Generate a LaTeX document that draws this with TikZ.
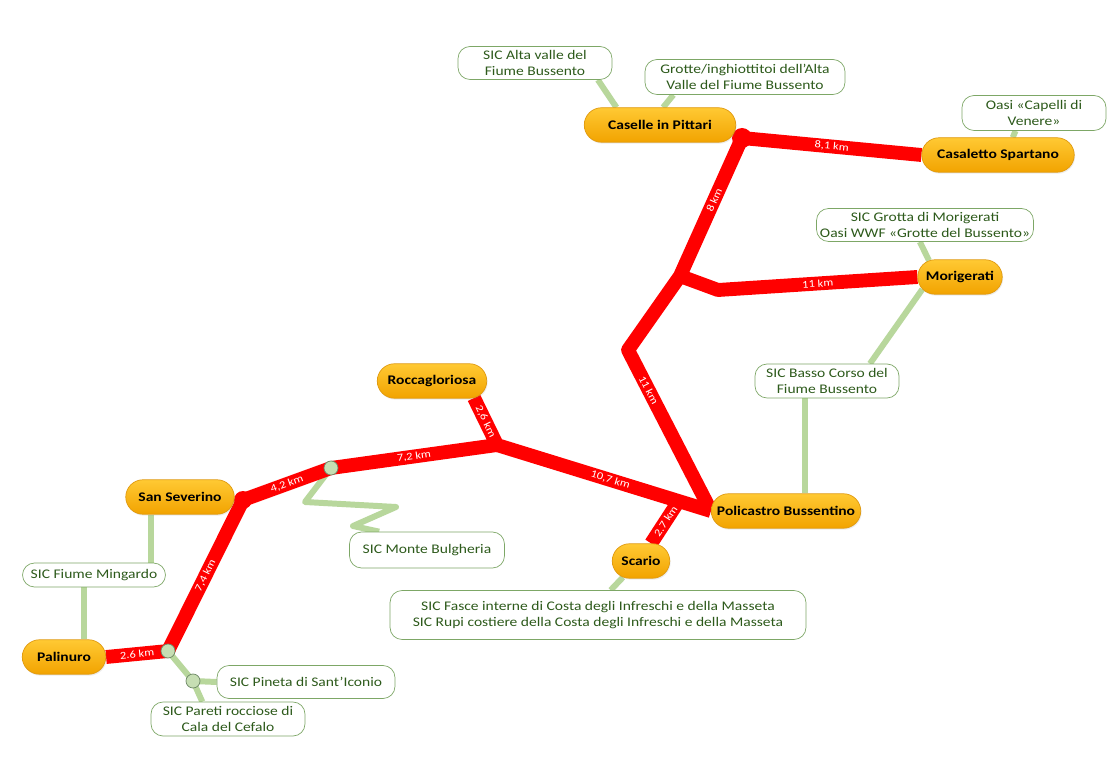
\documentclass[tikz,border=0pt]{standalone}
\usepackage{fontspec}
\setmainfont{Carlito}[FakeStretch=1.18]
\usetikzlibrary{shapes.misc,backgrounds,shadows}
\definecolor{townhi}{HTML}{FFC933}
\definecolor{townlo}{HTML}{F2A300}
\definecolor{townedge}{HTML}{E09A10}
\definecolor{sicedge}{HTML}{7DA766}
\definecolor{sictext}{HTML}{2D5A1B}
\definecolor{linkgreen}{HTML}{B8D79C}
\definecolor{roadred}{HTML}{FF0000}
\definecolor{dotfill}{HTML}{C6DEB3}
\definecolor{dotedge}{HTML}{6F8A68}

\begin{document}
\begin{tikzpicture}[x=0.02cm,y=-0.02cm,
  town/.style={rounded rectangle,draw=townedge,top color=townhi,bottom color=townlo,
    font=\fontsize{7.5}{9}\selectfont\bfseries,minimum height=0.69cm,inner sep=1pt,
    drop shadow={opacity=0.15,shadow xshift=0.5pt,shadow yshift=-0.8pt}},
  sic/.style={draw=sicedge,fill=white,rounded corners=0.24cm,align=center,text=sictext,
    font=\fontsize{7.5}{9}\selectfont,minimum height=0.66cm,inner sep=1pt},
  sicdot/.style={circle,draw=dotedge,fill=dotfill,minimum size=0.28cm,inner sep=0pt},
  road/.style={draw=roadred,line width=7.9pt,line join=round},
  link/.style={draw=linkgreen,line width=3.4pt,line join=round},
  dist/.style={midway,sloped,text=white,font=\fontsize{6}{7}\selectfont,inner sep=0pt}]
\useasboundingbox (0,0) rectangle (1116,763);

\node[town,minimum width=3.1cm] (cap) at (660,125) {Caselle in Pittari};
\node[town,minimum width=3.12cm] (cas) at (998,155) {Casaletto Spartano};
\node[town,minimum width=1.76cm] (mor) at (960,277) {Morigerati};
\node[town,minimum width=3.06cm] (pol) at (786,511) {Policastro Bussentino};
\node[town,minimum width=1.22cm] (sca) at (641,561) {Scario};
\node[town,minimum width=2.26cm] (roc) at (432,381) {Roccagloriosa};
\node[town,minimum width=2.24cm] (sev) at (180,497) {San Severino};
\node[town,minimum width=1.74cm] (pal) at (64,657) {Palinuro};

\node[sic,minimum width=3.08cm] (alta) at (535,63) {SIC Alta valle del\\Fiume Bussento};
\node[sic,minimum width=4cm,minimum height=0.7cm] (grot) at (745,77) {Grotte/inghiottitoi dell’Alta\\Valle del Fiume Bussento};
\node[sic,minimum width=2.88cm,minimum height=0.7cm] (oasi) at (1034,113) {Oasi «Capelli di\\Venere»};
\node[sic,minimum width=4.34cm] (grmor) at (925,225) {SIC Grotta di Morigerati\\Oasi WWF «Grotte del Bussento»};
\node[sic,minimum width=2.88cm,minimum height=0.68cm] (basso) at (827,381) {SIC Basso Corso del\\Fiume Bussento};
\node[sic,minimum width=3.1cm,minimum height=0.72cm] (bulg) at (427,550) {SIC Monte Bulgheria};
\node[sic,minimum width=8.32cm,minimum height=0.98cm] (fasce) at (598,615) {SIC Fasce interne di Costa degli Infreschi e della Masseta\\SIC Rupi costiere della Costa degli Infreschi e della Masseta};
\node[sic,minimum width=2.86cm,minimum height=0.48cm] (ming) at (94,575) {SIC Fiume Mingardo};
\node[sic,minimum width=3.56cm] (pin) at (306,682) {SIC Pineta di Sant’Iconio};
\node[sic,minimum width=3.08cm,minimum height=0.68cm] (par) at (228,719) {SIC Pareti rocciose di\\Cala del Cefalo};

\coordinate (j1) at (742,138);
\coordinate (j2) at (680,276);
\coordinate (j2b) at (718,290);
\coordinate (j3) at (628,350);
\coordinate (j4) at (497,445);
\coordinate (j5) at (243,500);
\coordinate (j6) at (680,499);
\coordinate (z1) at (305,502);
\coordinate (z2) at (396,507);
\coordinate (z3) at (353,526);
\node[sicdot] (d1) at (331,468) {};
\node[sicdot] (d2) at (168,651) {};
\node[sicdot] (d3) at (193,681) {};

\begin{scope}[on background layer]
\fill[white] (0,0) rectangle (1116,763);
\draw[link] (alta.-15) -- (cap.158);
\draw[link] (grot.-166) -- (cap.80);
\draw[link] (oasi.-136) -- (cas.50);
\draw[link] (grmor.-107) -- (mor.152);
\draw[link] (mor.-162) -- (basso.22);
\draw[link] (basso.-142) -- (basso.-142 |- pol.north);
\draw[link] (sca.-138) -- (fasce.63);
\draw[link] (sev.-149) -- (sev.-149 |- ming.north);
\draw[link] (ming.-130) -- (ming.-130 |- pal.north);
\draw[link] (d1.center) -- (z1) -- (z2) -- (z3) -- (bulg.159);
\draw[link] (d2.center) -- (d3.center) -- (par.146);
\draw[link] (d3.center) -- (pin.west);

\draw[road] (j1) -- node[dist]{8,1 km} (cas.west);
\draw[road] (j1) -- node[dist,pos=0.45]{8 km} (j2) -- (j3) -- node[dist,pos=0.25]{11 km} (pol.west);
\draw[road] (j2) -- (j2b) -- node[dist]{11 km} (mor.west);
\draw[road] (roc.-22) -- node[dist]{2,6 km} (j4) -- node[dist,pos=0.53]{10,7 km} (pol.west);
\draw[road] (j4) -- node[dist]{7,2 km} (d1.center) -- node[dist]{4,2 km} (j5) -- node[dist]{7,4 km} (d2.center) -- node[dist]{2.6 km} (pal.east);
\draw[road] (j6) -- node[dist]{2.7 km} (sca.60);
\fill[roadred] (j1) circle (0.2cm);
\fill[roadred] (j5) circle (0.18cm);
\end{scope}
\end{tikzpicture}
\end{document}
